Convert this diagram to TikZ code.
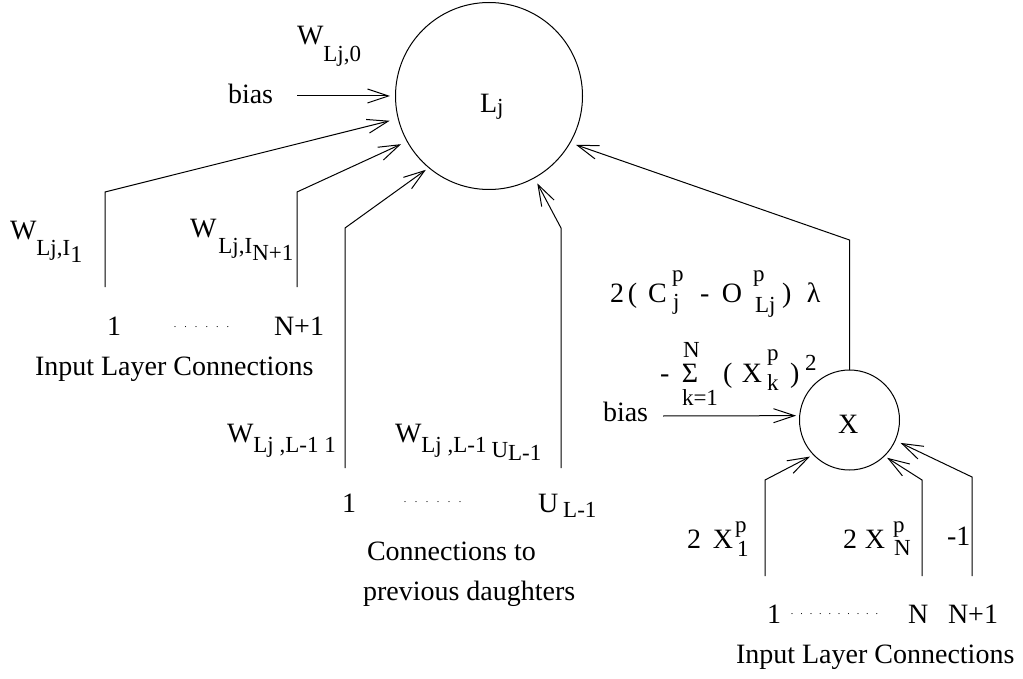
\documentclass[tikz,border=0pt]{standalone}
\usepackage{fontspec}
\setmainfont{Liberation Serif}
\usetikzlibrary{arrows.meta}
\newcommand\mainsz{\fontsize{28}{32}\selectfont}
\newcommand\subsz{\fontsize{23}{26}\selectfont}
\newcommand\dn[2]{\raisebox{-#1pt}{\subsz #2}}
\newcommand\upr[2]{\raisebox{#1pt}{\subsz #2}}
\newcommand\pos[2]{\makebox[0pt][l]{\hspace*{#1pt}#2}}
\newcommand\dd[1]{\makebox[#1pt]{\fontsize{10}{10}\selectfont .}}
\begin{document}
\begin{tikzpicture}[x=1pt,y=-1pt, line width=1pt,
  txt/.style={inner sep=0pt, outer sep=0pt, anchor=base west, font=\mainsz},
  dotsrow/.style={inner sep=0pt, outer sep=0pt, anchor=base},
  neuron/.style={circle, draw, inner sep=0pt, outer sep=0pt},
  arr/.style={-{Straight Barb[length=21pt,width=14pt]}, line join=miter}]
\useasboundingbox (0,0) rectangle (1023,679);

% neurons
\node[neuron, minimum size=187pt] (L) at (489,96) {};
\node[txt] (Llab) at (480,113) {L\dn{2}{j}};
\node[neuron, minimum size=100pt] (X) at (849.5,420) {};
\node[txt] (Xlab) at (838,433) {X};

% bias into L
\node[txt] (w0) at (297,45) {W\dn{17}{Lj,0}};
\node[txt] (bias1) at (228,104) {bias};
\coordinate (b1) at (297,96);
\draw[arr, shorten >=5.5pt] (b1) -- (L.180);

% input layer connections (top left)
\node[txt] (wi1) at (10,240) {W\dn{16}{Lj,I}\raisebox{-23pt}{\fontsize{24}{24}\selectfont 1}};
\node[txt] (wiN) at (190,238) {W\hspace{2pt}\dn{16}{Lj,I}\raisebox{-23pt}{\fontsize{23}{24}\selectfont N+1}};
\coordinate (a1) at (105,287);
\coordinate (a1t) at (105,192);
\draw[arr, shorten >=8.9pt] (a1) -- (a1t) -- (L.194.7);
\coordinate (a2) at (297,287);
\coordinate (a2t) at (297,192);
\draw[arr, shorten >=6.8pt] (a2) -- (a2t) -- (L.209.9);
\node[txt] (one1) at (107,335) {1};
\node[dotsrow] (dots1) at (201.5,327) {\dd{10.6}\dd{10.6}\dd{10.6}\dd{10.6}\dd{10.6}\dd{10.6}};
\node[txt] (np1) at (274,335) {N+1};
\node[txt] (ilc1) at (35,375) {Input Layer Connections};

% previous daughters
\node[txt] (wl1) at (227,442) {W\dn{10}{Lj ,L-1 1}};
\node[txt] (wlU) at (395,442) {W\dn{10}{Lj ,L-1}\hspace{5pt}\dn{15}{U}\dn{18}{L-1}};
\coordinate (m1) at (345,468);
\coordinate (m1t) at (345,228);
\draw[arr, shorten >=3.8pt] (m1) -- (m1t) -- (L.230.4);
\coordinate (m2) at (561,468);
\coordinate (m2t) at (561,228);
\draw[arr, shorten >=6.3pt] (m2) -- (m2t) -- (L.299.4);
\node[txt] (one2) at (342,512) {1};
\node[dotsrow] (dots2) at (432.5,502) {\dd{11}\dd{11}\dd{11}\dd{11}\dd{11}\dd{11}};
\node[txt] (U2) at (538,512) {U\hspace{5pt}\dn{5}{L-1}};
\node[txt] (ct) at (367,560) {Connections to};
\node[txt] (pd) at (363,600) {previous daughters};

% X neuron and its connections
\node[txt] (cterm) at (610,302) {\pos{0}{2}\pos{18}{(}\pos{38}{C}\pos{62}{\upr{21}{p}}\pos{63}{\dn{7}{j}}\pos{90}{-}\pos{112}{O}\pos{143}{\upr{21}{p}}\pos{145}{\dn{10}{Lj}}\pos{172}{)}\pos{197}{λ}\hspace*{216pt}};
\node[txt] (sterm) at (660,382) {\pos{0}{-}\pos{22}{Σ}\pos{23}{\upr{25}{N}}\pos{22}{\dn{23}{k=1}}\pos{63}{(}\pos{82}{X}\pos{107}{\upr{22}{p}}\pos{107}{\dn{8}{k}}\pos{130}{)}\pos{145}{\upr{12}{2}}\hspace*{158pt}};
\node[txt] (bias2) at (603,421) {bias};
\coordinate (b2) at (663,416);
\draw[arr, shorten >=3.6pt] (b2) -- (X.175.7);
\coordinate (xt) at (849.5,240);
\draw[arr, shorten >=6.3pt] (X.north) -- (xt) -- (L.330.6);

\coordinate (r1) at (765,576);
\coordinate (r1t) at (765,480);
\draw[arr, shorten >=4pt] (r1) -- (r1t) -- (X.224.6);
\coordinate (r2) at (922,576);
\coordinate (r2t) at (922,480);
\draw[arr, shorten >=3.4pt] (r2) -- (r2t) -- (X.314.6);
\coordinate (r3) at (972,576);
\coordinate (r3t) at (972,477);
\draw[arr, shorten >=6pt] (r3) -- (r3t) -- (X.336.9);

\node[txt] (x1) at (687,548) {\pos{0}{2}\pos{26}{X}\pos{48}{\upr{16}{p}}\pos{50}{\dn{8}{1}}\hspace*{64pt}};
\node[txt] (xN) at (843,548) {\pos{0}{2}\pos{22}{X}\pos{50}{\upr{16}{p}}\pos{51}{\dn{7}{N}}\hspace*{68pt}};
\node[txt] (mone) at (947,545) {-1};
\node[txt] (one3) at (767,623) {1};
\node[dotsrow] (dots3) at (834.5,614) {\dd{9.4}\dd{9.4}\dd{9.4}\dd{9.4}\dd{9.4}\dd{9.4}\dd{9.4}\dd{9.4}\dd{9.4}\dd{9.4}};
\node[txt] (n3) at (908,623) {N};
\node[txt] (np3) at (948,623) {N+1};
\node[txt] (ilc2) at (736,663) {Input Layer Connections};
\end{tikzpicture}
\end{document}
